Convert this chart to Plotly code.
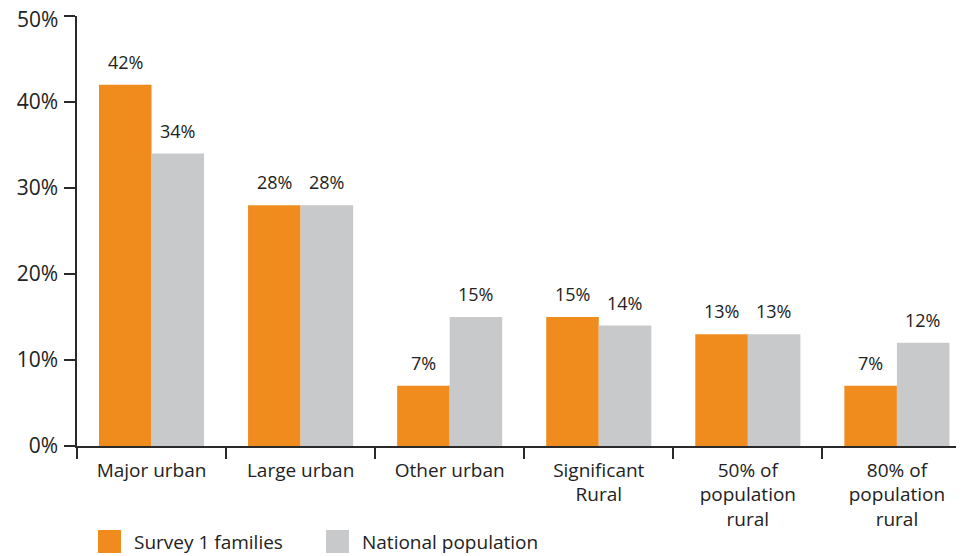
import plotly.graph_objects as go

categories = ["Major urban", "Large urban", "Other urban", "Significant<br>Rural",
              "50% of<br>population<br>rural", "80% of<br>population<br>rural"]
survey = [42, 28, 7, 15, 13, 7]
national = [34, 28, 15, 14, 13, 12]
series_names = ["Survey 1 families", "National population"]
y_ticks = [0, 10, 20, 30, 40, 50]
y_tick_labels = ["0%", "10%", "20%", "30%", "40%", "50%"]

ORANGE = "#F08C1E"
GREY = "#C8C9CB"
TEXT = "#222222"
AXIS = "#2a2a2a"
FONT = "Open Sans"

fig = go.Figure()
fig.add_trace(go.Bar(x=categories, y=survey, name=series_names[0],
                     marker=dict(color=ORANGE, line=dict(width=0)), showlegend=False))
fig.add_trace(go.Bar(x=categories, y=national, name=series_names[1],
                     marker=dict(color=GREY, line=dict(width=0)), showlegend=False))

# value labels above bars
for vals, shift in [(survey, -26), (national, 26)]:
    for c, v in zip(categories, vals):
        fig.add_annotation(x=c, y=v, text=f"{v}%", showarrow=False, xshift=shift,
                           yanchor="bottom", yshift=9,
                           font=dict(size=18, color=TEXT, family=FONT))

# top tick label is nudged down a little (as in the original) so it is not clipped
tick_text = y_tick_labels[:-1] + [""]
fig.add_annotation(xref="paper", x=0, y=y_ticks[-1], text=y_tick_labels[-1],
                   showarrow=False, xanchor="right", xshift=-17, yshift=-3,
                   font=dict(size=21, color=TEXT, family=FONT))

# manual legend (large square swatches); coords given in page pixels
W, H = 964 - 77, 446 - 16
def px(x):
    return (x - 77) / W
def py(y):
    return (446 - y) / H

for (x0, col, name) in [(98, ORANGE, series_names[0]), (326, GREY, series_names[1])]:
    fig.add_shape(type="rect", xref="paper", yref="paper",
                  x0=px(x0), x1=px(x0 + 23), y0=py(553), y1=py(530),
                  fillcolor=col, line=dict(width=0))
    fig.add_annotation(xref="paper", yref="paper", x=px(x0 + 34), y=py(542),
                       text=name, showarrow=False, xanchor="left", yanchor="middle",
                       font=dict(size=19, color=TEXT, family=FONT))

# page body has an 8px margin, so the figure is shrunk by that amount
fig.update_layout(
    width=956, height=548,
    margin=dict(l=69, r=0, t=8, b=110, autoexpand=False),
    barmode="group", bargap=0.295, bargroupgap=0,
    plot_bgcolor="white", paper_bgcolor="white",
    font=dict(family=FONT, color=TEXT, size=19),
    xaxis=dict(range=[-0.5, 5.45], showline=True, linecolor=AXIS, linewidth=1.5,
               ticks="outside", tickson="boundaries", ticklen=11, tickwidth=1.5,
               tickcolor=AXIS, showgrid=False, automargin=False,
               ticklabelstandoff=6, tickfont=dict(size=19, color=TEXT)),
    yaxis=dict(range=[0, 50], tickvals=y_ticks, ticktext=tick_text, showline=True,
               linecolor=AXIS, linewidth=1.5, ticks="outside", ticklen=11, tickwidth=1.5,
               tickcolor=AXIS, showgrid=False, zeroline=False, automargin=False,
               ticklabelstandoff=2, tickfont=dict(size=21, color=TEXT)),
)

fig.write_html("out.html")
